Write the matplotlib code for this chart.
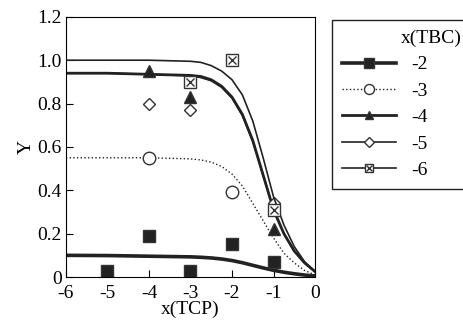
import matplotlib
matplotlib.use("Agg")
import matplotlib.pyplot as plt
from matplotlib.legend_handler import HandlerTuple

plt.rcParams['font.family'] = ['Liberation Serif', 'DejaVu Serif']

# measured points, one series per x(TBC)
labels = ['-2', '-3', '-4', '-5', '-6']
x_pts = {
    '-2': [-5, -4, -3, -2, -1],
    '-3': [-4, -2],
    '-4': [-4, -3, -1],
    '-5': [-4, -3, -1],
    '-6': [-3, -2, -1],
}
y_pts = {
    '-2': [0.03, 0.19, 0.03, 0.15, 0.07],
    '-3': [0.55, 0.39],
    '-4': [0.95, 0.83, 0.22],
    '-5': [0.80, 0.77, 0.34],
    '-6': [0.90, 1.00, 0.31],
}

# fitted curves
x_fit = [-6, -5, -4, -3, -2.75, -2.5, -2.25, -2, -1.75, -1.5, -1.25, -1, -0.75, -0.5, -0.25, 0]
y_fit = {
    '-2': [0.100, 0.099, 0.096, 0.093, 0.091, 0.088, 0.083, 0.076, 0.066, 0.054, 0.042, 0.031, 0.022, 0.015, 0.009, 0.005],
    '-3': [0.55, 0.55, 0.55, 0.545, 0.54, 0.53, 0.51, 0.475, 0.42, 0.34, 0.26, 0.18, 0.11, 0.065, 0.03, 0.01],
    '-4': [0.94, 0.94, 0.935, 0.93, 0.925, 0.91, 0.88, 0.83, 0.75, 0.63, 0.47, 0.31, 0.2, 0.12, 0.065, 0.025],
    '-5': [0.94, 0.94, 0.935, 0.928, 0.92, 0.905, 0.875, 0.825, 0.745, 0.625, 0.47, 0.315, 0.2, 0.12, 0.065, 0.025],
    '-6': [1.0, 1.0, 1.0, 0.995, 0.99, 0.975, 0.95, 0.91, 0.84, 0.72, 0.55, 0.37, 0.24, 0.14, 0.07, 0.025],
}

dark = '#222222'
styles = {
    '-2': dict(ls='-', lw=2.6, marker='s', ms=9, mfc=dark),
    '-3': dict(ls=':', lw=1.0, marker='o', ms=9, mfc='white'),
    '-4': dict(ls='-', lw=2.0, marker='^', ms=8, mfc=dark),
    '-5': dict(ls='-', lw=1.2, marker='D', ms=6, mfc='white'),
    '-6': dict(ls='-', lw=1.2, marker='s', ms=8, mfc='white'),
}

fig = plt.figure(figsize=(4.64, 3.24), dpi=100)
ax = fig.add_axes([0.142, 0.145, 0.537, 0.803])

handles = []
for lab in labels:
    st = styles[lab]
    ax.plot(x_fit, y_fit[lab], color=dark, ls=st['ls'], lw=st['lw'])
    ax.plot(x_pts[lab], y_pts[lab], ls='none', marker=st['marker'], ms=st['ms'],
            mfc=st['mfc'], mec='#333333', mew=1.0)
    h, = ax.plot([], [], color=dark, ls=st['ls'], lw=st['lw'], marker=st['marker'],
                 ms=st['ms'] * 0.8, mfc=st['mfc'], mec='#333333', mew=1.0)
    if lab == '-6':
        ax.plot(x_pts[lab], y_pts[lab], ls='none', marker='x', ms=5.5,
                mec='#333333', mew=1.0)
        hx, = ax.plot([], [], ls='none', marker='x', ms=4.5, mec='#333333', mew=1.0)
        h = (h, hx)
    handles.append(h)

ax.set_xlim(-6, 0)
ax.set_ylim(0, 1.2)
ax.set_xticks([-6, -5, -4, -3, -2, -1, 0])
ax.set_xticklabels(['-6', '-5', '-4', '-3', '-2', '-1', '0'])
ax.set_yticks([0, 0.2, 0.4, 0.6, 0.8, 1.0, 1.2])
ax.set_yticklabels(['0', '0.2', '0.4', '0.6', '0.8', '1.0', '1.2'])
ax.tick_params(axis='x', direction='in', labelsize=14, length=5, pad=6)
ax.tick_params(axis='y', direction='in', labelsize=14, length=5, pad=3)
ax.set_xlabel('x(TCP)', fontsize=14, labelpad=-1)
ax.set_ylabel('Y', fontsize=14, labelpad=2)

leg = fig.legend(handles, labels, title='x(TBC)', loc='upper left',
                 bbox_to_anchor=(0.7155, 0.838, 0.30, 0.1), mode='expand',
                 borderaxespad=0, fontsize=14, title_fontsize=14,
                 handlelength=2.8, handletextpad=0.8, labelspacing=0.45,
                 borderpad=0.5, fancybox=False, edgecolor=dark, framealpha=1,
                 handler_map={tuple: HandlerTuple(ndivide=1)})
leg.get_frame().set_linewidth(1.0)
leg._legend_box.align = 'right'

fig.savefig('out.png', dpi=100)
